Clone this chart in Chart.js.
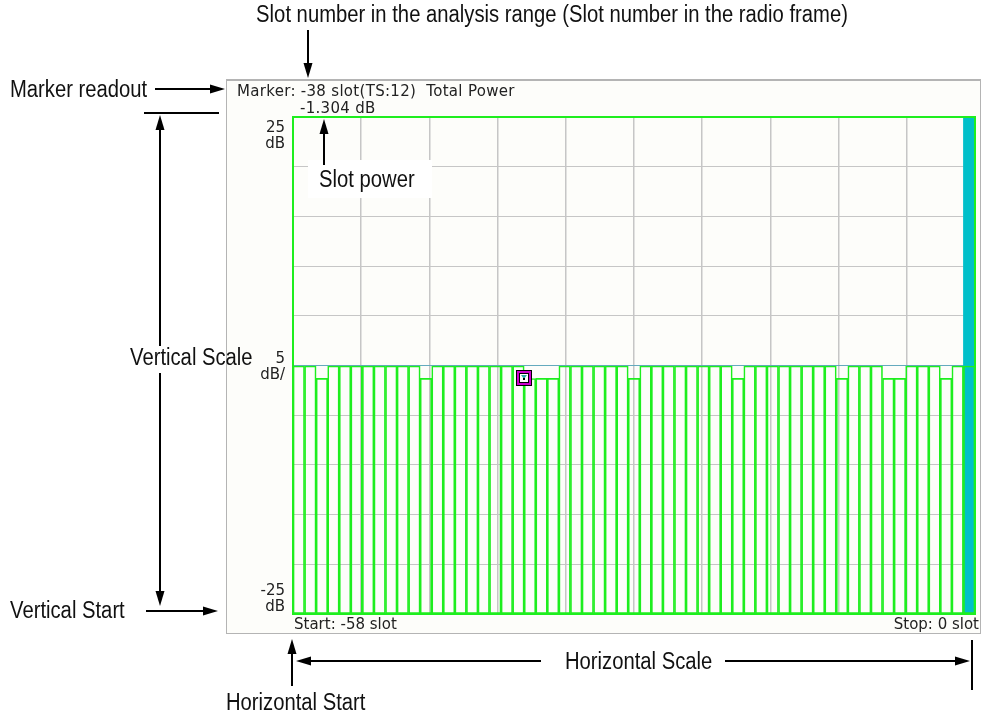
<!DOCTYPE html>
<html>
<head>
<meta charset="utf-8">
<script src="https://cdn.jsdelivr.net/npm/chart.js@4.4.1/dist/chart.umd.min.js"></script>
<style>
  html, body { margin: 0; padding: 0; background: #fff; }
  canvas { display: block; }
</style>
</head>
<body>
<canvas id="slot-chart" width="984" height="715"></canvas>
<script>
// Слоты в диапазоне анализа (Start -58 .. Stop 0)
const slots = [
  -58, -57, -56, -55, -54, -53, -52, -51, -50, -49,
  -48, -47, -46, -45, -44, -43, -42, -41, -40, -39,
  -38, -37, -36, -35, -34, -33, -32, -31, -30, -29,
  -28, -27, -26, -25, -24, -23, -22, -21, -20, -19,
  -18, -17, -16, -15, -14, -13, -12, -11, -10, -9,
  -8, -7, -6, -5, -4, -3, -2, -1, 0
];
// Мощность слота, dB
const slotPower = [
  -0.05, -0.05, -1.30, -0.05, -0.05, -0.05, -0.05, -0.05, -0.05, -0.05,
  -0.05, -1.30, -0.05, -0.05, -0.05, -0.05, -0.05, -0.05, -0.05, -0.05,
  -1.304, -1.29, -1.30, -0.05, -0.05, -0.05, -0.05, -0.05, -0.05, -1.30,
  -0.05, -0.05, -0.05, -0.05, -0.05, -0.05, -0.05, -0.05, -1.30, -0.05,
  -0.05, -0.05, -0.05, -0.05, -0.05, -0.05, -0.05, -1.30, -0.05, -0.05,
  -0.05, -1.29, -1.30, -0.05, -0.05, -0.05, -1.30, -0.05, -0.05
];
// Текущий слот (закрашенный)
const currentSlots = [0];
const currentLevel = [25];

// Шкалы
const yMin = -25;
const yMax = 25;
const yStep = 5;
const xGridTicks = [-58.5, -52.6, -46.7, -40.8, -34.9, -29, -23.1, -17.2, -11.3, -5.4, 0.5];
const yLabelValues = [25, 0, -25];
const yLabelLines = [['25', 'dB'], ['5', 'dB/'], ['-25', 'dB']];

// Маркер
const markerSlot = -38;
const markerTs = 12;
const markerPower = -1.304;
const startSlot = -58;
const stopSlot = 0;

const GREEN = 'rgb(30,238,30)';
const INSTR_FONT = '15px "DejaVu Sans", sans-serif';

function calloutText(ctx, text, x, y, align) {
  ctx.save();
  ctx.font = '23px "Liberation Sans", Arial, sans-serif';
  ctx.fillStyle = '#111';
  ctx.textAlign = align || 'left';
  ctx.textBaseline = 'alphabetic';
  ctx.translate(x, y);
  ctx.scale(0.88, 1);
  ctx.fillText(text, 0, 0);
  ctx.restore();
}

function arrow(ctx, x1, y1, x2, y2) {
  const ang = Math.atan2(y2 - y1, x2 - x1);
  const len = 15, half = 4.5;
  const bx = x2 - Math.cos(ang) * len, by = y2 - Math.sin(ang) * len;
  ctx.save();
  ctx.strokeStyle = '#000';
  ctx.fillStyle = '#000';
  ctx.lineWidth = 2;
  ctx.beginPath();
  ctx.moveTo(x1, y1);
  ctx.lineTo(bx, by);
  ctx.stroke();
  ctx.beginPath();
  ctx.moveTo(x2, y2);
  ctx.lineTo(bx - Math.sin(ang) * half, by + Math.cos(ang) * half);
  ctx.lineTo(bx + Math.sin(ang) * half, by - Math.cos(ang) * half);
  ctx.closePath();
  ctx.fill();
  ctx.restore();
}

function line(ctx, x1, y1, x2, y2) {
  ctx.save();
  ctx.strokeStyle = '#000';
  ctx.lineWidth = 2;
  ctx.beginPath();
  ctx.moveTo(x1, y1);
  ctx.lineTo(x2, y2);
  ctx.stroke();
  ctx.restore();
}

// Рамка прибора и фон
const instrumentFrame = {
  id: 'instrumentFrame',
  beforeDraw(chart) {
    const ctx = chart.ctx;
    ctx.save();
    ctx.fillStyle = '#fff';
    ctx.fillRect(0, 0, chart.width, chart.height);
    ctx.fillStyle = '#fdfdfa';
    ctx.fillRect(226, 80, 755, 554);
    ctx.strokeStyle = '#b4b4b4';
    ctx.lineWidth = 1;
    ctx.strokeRect(226.5, 80.5, 754, 553);
    ctx.lineWidth = 2;
    ctx.beginPath();
    ctx.moveTo(226, 80);
    ctx.lineTo(981, 80);
    ctx.stroke();
    ctx.restore();
  },
  afterDatasetsDraw(chart) {
    const ctx = chart.ctx;
    const area = chart.chartArea;
    const xs = chart.scales.x, ys = chart.scales.y;

    // зелёная рамка графика
    ctx.save();
    ctx.strokeStyle = GREEN;
    ctx.lineWidth = 2;
    ctx.strokeRect(area.left, area.top, area.right - area.left, area.bottom - area.top);
    ctx.restore();

    // маркер
    const mx = Math.round(xs.getPixelForValue(markerSlot - 0.5));
    const my = Math.round(ys.getPixelForValue(markerPower));
    ctx.save();
    ctx.fillStyle = '#fff';
    ctx.fillRect(mx - 7, my - 7, 14, 14);
    ctx.strokeStyle = '#000';
    ctx.lineWidth = 1;
    ctx.strokeRect(mx - 7.5, my - 7.5, 15, 15);
    ctx.strokeStyle = '#d000d0';
    ctx.lineWidth = 2;
    ctx.strokeRect(mx - 6, my - 6, 12, 12);
    ctx.strokeStyle = '#000';
    ctx.lineWidth = 1;
    ctx.strokeRect(mx - 4.5, my - 4.5, 9, 9);
    ctx.fillStyle = '#2aa8a8';
    ctx.beginPath();
    ctx.moveTo(mx - 3, my - 3);
    ctx.lineTo(mx + 3, my - 3);
    ctx.lineTo(mx, my + 1);
    ctx.closePath();
    ctx.fill();
    ctx.fillStyle = '#000';
    ctx.fillRect(mx - 1, my, 2, 2);
    ctx.restore();
  },
  afterDraw(chart) {
    const ctx = chart.ctx;
    const area = chart.chartArea;
    const ys = chart.scales.y;

    // тексты прибора
    ctx.save();
    ctx.font = INSTR_FONT;
    ctx.fillStyle = '#222';
    ctx.textBaseline = 'alphabetic';
    ctx.textAlign = 'left';
    ctx.letterSpacing = '0.3px';
    ctx.fillText('Marker: ' + markerSlot + ' slot(TS:' + markerTs + ')  Total Power', 237, 96);
    ctx.fillText(markerPower.toFixed(3) + ' dB', 300, 113);
    ctx.letterSpacing = '0px';
    ctx.fillText('Start: ' + startSlot + ' slot', area.left + 1, 629);
    ctx.textAlign = 'right';
    ctx.fillText('Stop: ' + stopSlot + ' slot', 979, 629);

    // подписи оси Y
    yLabelValues.forEach((v, i) => {
      const lines = yLabelLines[i];
      const py = ys.getPixelForValue(v);
      let base;
      if (v === yMax) base = py + 15;
      else if (v === yMin) base = py - 19;
      else base = py - 3;
      ctx.fillText(lines[0], 285, base);
      ctx.fillText(lines[1], 285, base + 16);
    });
    ctx.restore();

    // белая подложка под "Slot power"
    ctx.save();
    ctx.fillStyle = '#fff';
    ctx.fillRect(308, 160, 124, 38);
    ctx.restore();

    // выноски
    calloutText(ctx, 'Slot number in the analysis range (Slot number in the radio frame)', 552, 22, 'center');
    arrow(ctx, 308, 30, 308, 78);

    calloutText(ctx, 'Marker readout', 10, 97);
    arrow(ctx, 155, 89, 225, 89);

    line(ctx, 144, 113, 219, 113);
    arrow(ctx, 160, 346, 160, 115);
    calloutText(ctx, 'Vertical Scale', 130, 365);
    arrow(ctx, 160, 373, 160, 606);

    calloutText(ctx, 'Vertical Start', 10, 618);
    arrow(ctx, 146, 611, 218, 611);

    arrow(ctx, 324, 165, 324, 119);
    calloutText(ctx, 'Slot power', 319, 187);

    arrow(ctx, 292, 686, 292, 639);
    calloutText(ctx, 'Horizontal Start', 226, 710);

    arrow(ctx, 541, 661, 296, 661);
    calloutText(ctx, 'Horizontal Scale', 565, 669);
    arrow(ctx, 725, 661, 970, 661);
    line(ctx, 972, 640, 972, 690);
  }
};

document.addEventListener('DOMContentLoaded', function() {
  const ctx = document.getElementById('slot-chart');

  new Chart(ctx, {
    type: 'bar',
    data: {
      datasets: [
        {
          label: 'Total Power',
          data: slots.map((s, i) => ({ x: s, y: slotPower[i] })),
          base: yMin,
          backgroundColor: 'rgba(0,0,0,0)',
          borderColor: GREEN,
          borderWidth: 1,
          borderSkipped: false,
          categoryPercentage: 1,
          barPercentage: 1,
          grouped: false,
          order: 0
        },
        {
          label: 'Current slot',
          data: currentSlots.map((s, i) => ({ x: s, y: currentLevel[i] })),
          base: yMin,
          backgroundColor: '#00bfc9',
          borderWidth: 0,
          categoryPercentage: 1,
          barPercentage: 1,
          grouped: false,
          order: 1
        }
      ]
    },
    options: {
      responsive: false,
      animation: false,
      devicePixelRatio: 1,
      layout: {
        padding: { left: 293, top: 117, right: 9, bottom: 101 }
      },
      plugins: {
        legend: { display: false },
        tooltip: { enabled: false },
        title: { display: false }
      },
      scales: {
        x: {
          type: 'linear',
          min: xGridTicks[0],
          max: xGridTicks[xGridTicks.length - 1],
          offset: false,
          afterBuildTicks: function(scale) {
            scale.ticks = xGridTicks.map(v => ({ value: v }));
          },
          ticks: { display: false },
          border: { display: false },
          grid: {
            offset: false,
            drawTicks: false,
            color: '#c6c6c6',
            lineWidth: 1.5
          }
        },
        y: {
          min: yMin,
          max: yMax,
          ticks: { display: false, stepSize: yStep },
          border: { display: false },
          grid: {
            drawTicks: false,
            color: function(c) {
              return c.tick && c.tick.value === 0 ? '#64aabe' : '#c6c6c6';
            },
            lineWidth: 1
          }
        }
      }
    },
    plugins: [instrumentFrame]
  });
});
</script>
</body>
</html>
